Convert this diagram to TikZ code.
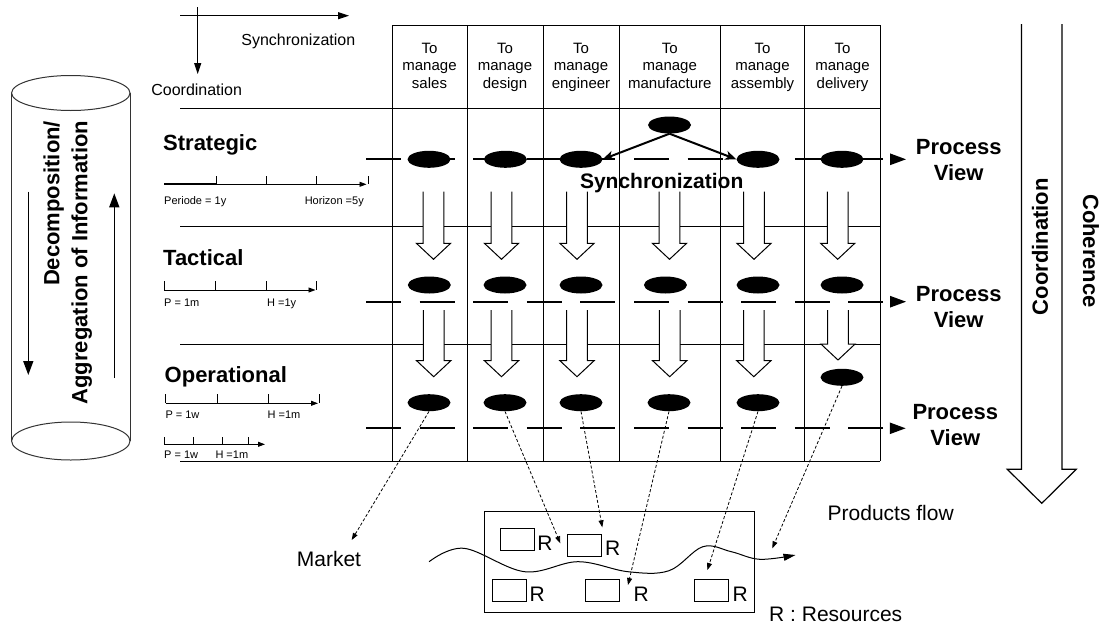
\documentclass[tikz,border=0pt]{standalone}
\usepackage{fontspec}
\setmainfont{Liberation Sans}
\usetikzlibrary{arrows.meta,shapes.geometric,calc}

\tikzset{
  pics/hollowdown/.style n args={3}{code={
    \fill[white] (-10.3,#1) -- (-10.3,#2) -- (-17.1,#2) -- (0,#3) -- (17.1,#2) -- (10.3,#2) -- (10.3,#1) -- cycle;
    \draw[line width=1pt, line join=miter] (-10.3,#1) -- (-10.3,#2) -- (-17.1,#2) -- (0,#3) -- (17.1,#2) -- (10.3,#2) -- (10.3,#1);
  }}
}

\begin{document}
\begin{tikzpicture}[x=1pt,y=-1pt,
  thinline/.style={line width=1pt},
  cyl/.style={line width=1pt, draw=black!80},
  dot/.style={ellipse, fill=black, minimum width=43pt, minimum height=17pt, inner sep=0pt},
  hdr/.style={font=\fontsize{15}{17.5}\selectfont, align=center, inner sep=0pt},
  axislbl/.style={font=\fontsize{16}{19}\selectfont, inner sep=0pt, anchor=base},
  level/.style={font=\bfseries\fontsize{22}{26}\selectfont, inner sep=0pt, anchor=base west},
  scalelbl/.style={font=\fontsize{11}{13}\selectfont, inner sep=0pt, anchor=base west},
  pview/.style={font=\bfseries\fontsize{22}{26}\selectfont, align=center, inner sep=0pt},
  boldlbl/.style={font=\bfseries\fontsize{22}{26}\selectfont, inner sep=0pt},
  proc/.style={line width=2.2pt, dash pattern=on 35pt off 18.6pt, -{Triangle[length=16pt,width=11pt]}},
  scaleax/.style={line width=0.9pt, -{Triangle[length=7pt,width=5pt]}},
  link/.style={line width=0.8pt, dash pattern=on 3pt off 2pt, -{Triangle[length=7pt,width=5pt]}},
  sync/.style={line width=2pt, -{Stealth[length=11pt,width=9pt,inset=3pt]}},
  plain/.style={font=\fontsize{21}{25}\selectfont, inner sep=0pt, anchor=base west},
  rbox/.style={draw, line width=1pt, minimum width=34pt, minimum height=22.5pt, inner sep=0pt},
  axisarrow/.style={line width=1pt, -{Triangle[length=11pt,width=7pt]}},
  cylarrow/.style={line width=1.5pt, -{Triangle[length=14pt,width=10pt]}}
]
\useasboundingbox (0,0) rectangle (1101,624);

% --- information cylinder ---
\draw[cyl] (11.6,93) -- (11.6,441) (130,93) -- (130,441);
\draw[cyl] (70.8,93) ellipse [x radius=59.2, y radius=17.5];
\draw[cyl] (70.8,441) ellipse [x radius=59.2, y radius=19];
\node[boldlbl, rotate=90, anchor=base east] (decomp) at (59.3,120.7) {Decomposition/};
\node[boldlbl, rotate=90, anchor=base east] (aggreg) at (87.3,120.7) {Aggregation of Information};
\coordinate (dnA) at (28.3,191.7);  \coordinate (dnB) at (28.3,375);
\coordinate (upA) at (114.3,378);   \coordinate (upB) at (114.3,193.3);
\draw[cylarrow] (dnA) -- (dnB);
\draw[cylarrow] (upA) -- (upB);

% --- axes legend ---
\coordinate (syA) at (180,15.7);  \coordinate (syB) at (349,15.7);
\coordinate (coA) at (197.7,7);   \coordinate (coB) at (197.7,74);
\draw[axisarrow] (syA) -- (syB);
\draw[axisarrow] (coA) -- (coB);
\node[axislbl] (synclbl) at (298.3,45) {Synchronization};
\node[axislbl] (coordlbl) at (196.7,95) {Coordination};

% --- grid ---
\draw[thinline] (392,25) -- (880,25);
\foreach \y in {108,226,344,461} \draw[thinline] (180,\y) -- (880,\y);
\foreach \x in {392,467,543,619,720,804,880} \draw[thinline] (\x,25) -- (\x,461);

% --- column headers ---
\node[hdr] (h1) at (429.5,67.3) {To\strut\\manage\strut\\sales\strut};
\node[hdr] (h2) at (505,67.3) {To\strut\\manage\strut\\design\strut};
\node[hdr] (h3) at (581,67.3) {To\strut\\manage\strut\\engineer\strut};
\node[hdr] (h4) at (669.8,67.3) {To\strut\\manage\strut\\manufacture\strut};
\node[hdr] (h5) at (762.5,67.3) {To\strut\\manage\strut\\assembly\strut};
\node[hdr] (h6) at (842.5,67.3) {To\strut\\manage\strut\\delivery\strut};

% --- level labels and time scales ---
\node[level] (strat) at (163,150) {Strategic};
\node[level] (tact) at (163,265) {Tactical};
\node[level] (oper) at (164.5,382.7) {Operational};

\draw[line width=2pt] (164,184.3) -- (216,184.3);
\draw[scaleax] (216,184.3) -- (366.5,184.3);
\foreach \x in {216,266.7,316.7,368} \draw[thinline] (\x,176) -- (\x,184.3);
\node[scalelbl] (per1) at (164,204) {Periode = 1y};
\node[scalelbl, anchor=base east] (hor1) at (364,204) {Horizon =5y};

\draw[scaleax] (164.3,290) -- (315.5,290);
\foreach \x in {164.3,215,266,316.5} \draw[thinline] (\x,281) -- (\x,290);
\node[scalelbl] (per2) at (164,306) {P = 1m};
\node[scalelbl] (hor2) at (267,306) {H =1y};

\draw[scaleax] (165.7,403.3) -- (318,403.3);
\foreach \x in {165.7,217.7,268.3,319} \draw[thinline] (\x,394.3) -- (\x,403.3);
\node[scalelbl] (per3) at (165.3,418.3) {P = 1w};
\node[scalelbl] (hor3) at (267.5,418.3) {H =1m};

\draw[scaleax] (164.3,444.3) -- (265,444.3);
\foreach \x in {164.3,193.3,222.7,248.3} \draw[thinline] (\x,437.3) -- (\x,444.3);
\node[scalelbl] (per4) at (164,458.5) {P = 1w};
\node[scalelbl] (hor4) at (215.3,458.5) {H =1m};

% --- decomposition arrows between levels ---
\foreach \x in {433.5,501.5,577,669.5,754,837.7}
  \pic at (\x,0) {hollowdown={191.7}{243.3}{259.3}};
\foreach \x in {433.7,501.5,577,669.7,753.8}
  \pic at (\x,0) {hollowdown={310}{360.7}{376.7}};
\pic at (838,0) {hollowdown={310}{344}{360}};

% --- process views ---
\node[pview] (pv1) at (958.7,162.1) {Process\strut\\View\strut};
\node[pview] (pv2) at (958.7,309.5) {Process\strut\\View\strut};
\node[pview] (pv3) at (955.3,427.1) {Process\strut\\View\strut};
\coordinate (ps1) at (366,159.3);
\coordinate (ps2) at (366,301.7);
\coordinate (ps3) at (366,428.3);
\draw[proc, shorten >=9.5pt] (ps1) -- (ps1 -| pv1.west);
\draw[proc, shorten >=9.5pt] (ps2) -- (ps2 -| pv2.west);
\draw[proc, shorten >=6.5pt] (ps3) -- (ps3 -| pv3.west);

% --- activities ---
\node[dot] (s1) at (429,159.3) {};
\node[dot] (s2) at (505.4,159.3) {};
\node[dot] (s3) at (581,159.3) {};
\node[dot] (s4) at (669.5,125) {};
\node[dot] (s5) at (758,159.3) {};
\node[dot] (s6) at (842,159.3) {};
\draw[sync] (s4.south) -- (s3.east);
\draw[sync] (s4.south) -- (s5.west);
\node[boldlbl, font=\bfseries\fontsize{21}{25}\selectfont, anchor=base] (synchro) at (661.7,188.3) {Synchronization};

\node[dot] (t1) at (429.3,285) {};
\node[dot] (t2) at (505,285) {};
\node[dot] (t3) at (581,285) {};
\node[dot] (t4) at (665.4,285) {};
\node[dot] (t5) at (758,285) {};
\node[dot] (t6) at (842,285) {};

\node[dot] (o1) at (429,402.7) {};
\node[dot] (o2) at (505,402.7) {};
\node[dot] (o3) at (581,402.7) {};
\node[dot] (o4) at (669,402.7) {};
\node[dot] (o5) at (758,402.7) {};
\node[dot] (o6) at (842,377.3) {};

% --- coordination / coherence ---
\draw[line width=1.2pt, line join=miter] (1021.5,24) -- (1021.5,469.3) -- (1007.3,469.3) -- (1041.75,503.3) -- (1076.2,469.3) -- (1062,469.3) -- (1062,24);
\node[boldlbl, rotate=90] (coord) at (1040,246.7) {Coordination};
\node[boldlbl, rotate=-90] (coher) at (1091,251) {Coherence};

% --- physical system ---
\node[draw, line width=1pt, minimum width=270pt, minimum height=101pt, inner sep=0pt] (plant) at (619,562.2) {};
\node[rbox] (rb1) at (517.6,539.7) {};
\node[rbox] (rb2) at (584.9,545.5) {};
\node[rbox] (rb3) at (509.5,590.5) {};
\node[rbox] (rb4) at (602.1,590.5) {};
\node[rbox] (rb5) at (711.6,590.5) {};
\node[plain] (r1) at (537.2,550.7) {R};
\node[plain] (r2) at (605,555) {R};
\node[plain] (r3) at (529.5,601.7) {R};
\node[plain] (r4) at (633.3,601.7) {R};
\node[plain] (r5) at (732.5,601.7) {R};

\draw[line width=1pt, -{Triangle[length=12pt,width=7pt]}] plot[smooth, tension=0.6] coordinates {(429.1,561.7) (464,548.3) (524.6,571.7) (578,561.7) (628,571.7) (669,570.7) (702.8,546.7) (731.3,551.7) (759.8,559.3) (795.5,555)};

\node[plain] (market) at (296.7,566.7) {Market};
\node[plain] (pflow) at (827.5,520) {Products flow};
\node[plain] (legend) at (769,621) {R : Resources};

% --- links from operational activities ---
\coordinate (mk) at (351.7,540);
\coordinate (k2) at (560.3,543.3);
\coordinate (k3) at (602.3,527.3);
\coordinate (k4) at (628,585);
\coordinate (k5) at (707.4,570);
\coordinate (k6) at (772.3,548.3);
\draw[link] (o1.south) -- (mk);
\draw[link] (o2.south) -- (k2);
\draw[link] (o3.south) -- (k3);
\draw[link] (o4.south) -- (k4);
\draw[link] (o5.south) -- (k5);
\draw[link] (o6.south) -- (k6);
\end{tikzpicture}
\end{document}
